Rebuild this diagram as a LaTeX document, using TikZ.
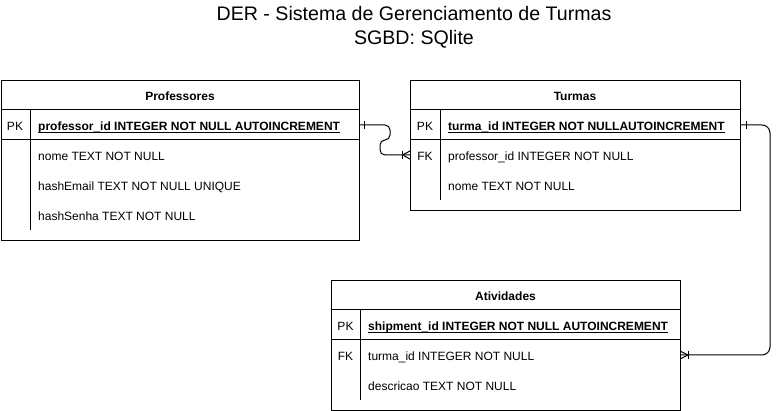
\documentclass[tikz,border=0pt]{standalone}
\usepackage{fontspec}
\setmainfont{Liberation Sans}
\newcommand{\pkul}[1]{\setbox0\hbox{#1}\rlap{\vrule height -1.4pt depth 2.4pt width \wd0}\box0}
\tikzset{
  tbl/.style={draw, line width=1pt, inner sep=0pt, anchor=north west},
  sepline/.style={line width=1pt},
  fld/.style={anchor=base west, inner sep=0pt, font=\fontsize{12}{14}\selectfont},
  pkfld/.style={anchor=base west, inner sep=0pt, font=\fontsize{12}{14}\selectfont\bfseries},
  keylbl/.style={anchor=base, inner sep=0pt, font=\fontsize{12}{14}\selectfont},
  hdr/.style={anchor=base, inner sep=0pt, font=\fontsize{12}{14}\selectfont\bfseries},
  ttl/.style={anchor=base, inner sep=0pt, font=\fontsize{19.6}{23}\selectfont},
  conn/.style={line width=1pt},
  ermark/.style={line width=1pt},
}
\begin{document}
\begin{tikzpicture}[x=1pt,y=-1pt]
\useasboundingbox (0,0) rectangle (780,411);
% title
\node[ttl] (title1) at (414,20.7) {DER - Sistema de Gerenciamento de Turmas};
\node[ttl] (title2) at (414,44.3) {SGBD: SQlite};

% ---------- Professores ----------
\node[tbl, minimum width=358pt, minimum height=160pt] (prof) at (1,80) {};
\draw[sepline] (1,110) -- (359,110);
\draw[sepline] (1,140) -- (359,140);
\draw[sepline] (30,110) -- (30,230);
\node[hdr] (profh) at (180,100.7) {Professores};
\node[keylbl] (profpk) at (15,130.7) {PK};
\node[pkfld] (profid) at (38,130.7) {\pkul{professor\_id INTEGER NOT NULL AUTOINCREMENT}};
\node[fld] (profnome) at (38,160.5) {nome TEXT NOT NULL};
\node[fld] (profemail) at (38,190.5) {hashEmail TEXT NOT NULL UNIQUE};
\node[fld] (profsenha) at (38,220.5) {hashSenha TEXT NOT NULL};

% ---------- Turmas ----------
\node[tbl, minimum width=330pt, minimum height=130pt] (turm) at (410,80) {};
\draw[sepline] (410,110) -- (740,110);
\draw[sepline] (410,140) -- (740,140);
\draw[sepline] (440,110) -- (440,200);
\node[hdr] (turmh) at (575,100.7) {Turmas};
\node[keylbl] (turmpk) at (425,130.7) {PK};
\node[pkfld] (turmid) at (448,130.7) {\pkul{turma\_id INTEGER NOT NULLAUTOINCREMENT}};
\node[keylbl] (turmfk) at (425,160.5) {FK};
\node[fld] (turmprof) at (448,160.5) {professor\_id INTEGER NOT NULL};
\node[fld] (turmnome) at (448,190.5) {nome TEXT NOT NULL};

% ---------- Atividades ----------
\node[tbl, minimum width=349pt, minimum height=130pt] (ativ) at (331,280) {};
\draw[sepline] (331,310) -- (680,310);
\draw[sepline] (331,340) -- (680,340);
\draw[sepline] (360,310) -- (360,400);
\node[hdr] (ativh) at (505.5,300.7) {Atividades};
\node[keylbl] (ativpk) at (345.5,330.7) {PK};
\node[pkfld] (ativid) at (368,330.7) {\pkul{shipment\_id INTEGER NOT NULL AUTOINCREMENT}};
\node[keylbl] (ativfk) at (345.5,360.5) {FK};
\node[fld] (ativturma) at (368,360.5) {turma\_id INTEGER NOT NULL};
\node[fld] (ativdesc) at (368,390.5) {descricao TEXT NOT NULL};

% ---------- connectors ----------
\coordinate (c1s) at (359,125);
\coordinate (c1e) at (410,155);
\draw[conn, rounded corners=5pt] (c1s) -- (390,125) -- (390,140) -- (380,140) -- (380,155) -- (c1e);
\draw[ermark] (364,121) -- (364,129);
\draw[ermark] (410,151) -- (402.5,155) -- (410,159);
\draw[ermark] (402.5,151) -- (402.5,159);

\coordinate (c2s) at (740,125);
\coordinate (c2e) at (680,355);
\draw[conn, rounded corners=8pt] (c2s) -- (770,125) -- (770,355) -- (c2e);
\draw[ermark] (746,121) -- (746,129);
\draw[ermark] (680,351) -- (688,355) -- (680,359);
\draw[ermark] (688.5,351) -- (688.5,359);
\end{tikzpicture}
\end{document}
